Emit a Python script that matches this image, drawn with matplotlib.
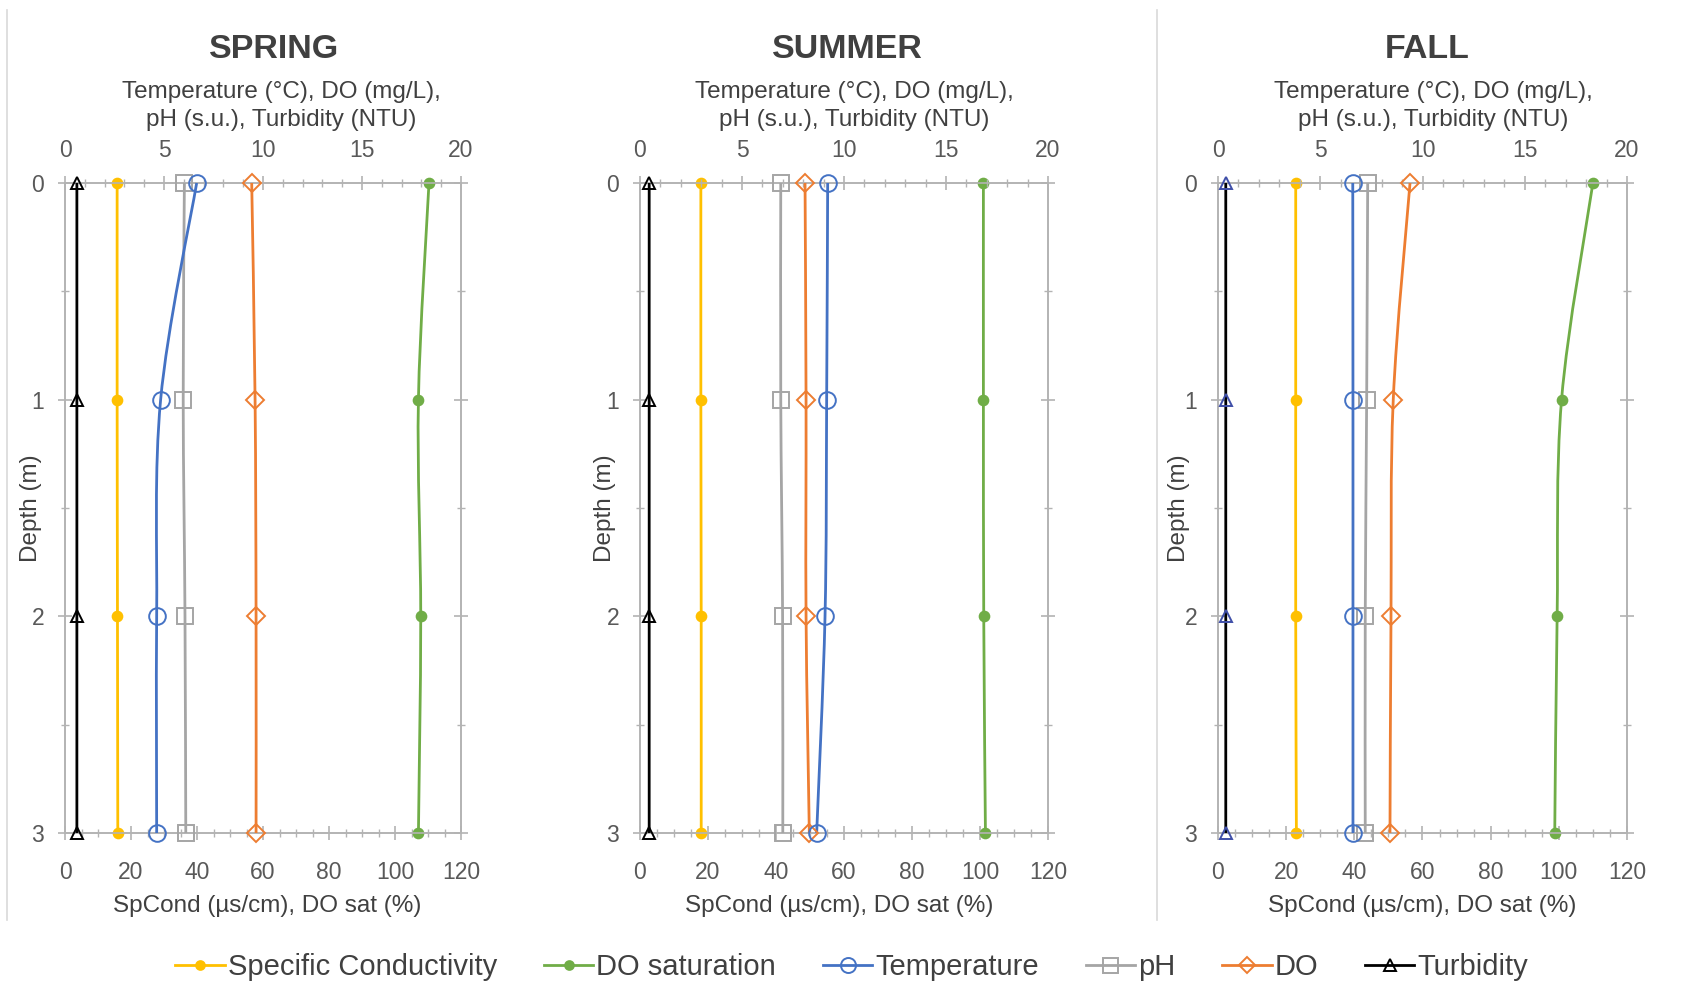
import numpy as np
import matplotlib.pyplot as plt
from matplotlib.path import Path
from matplotlib.patches import PathPatch
from matplotlib.lines import Line2D
from matplotlib.ticker import MultipleLocator

plt.rcParams['font.family'] = ['Liberation Sans', 'DejaVu Sans']

# depth profiles, one list per season (spring, summer, fall)
seasons = ['SPRING', 'SUMMER', 'FALL']
depth = [0, 1, 2, 3]
spcond = [[15.8, 15.8, 15.9, 16.0], [17.9, 17.9, 18.0, 18.0], [22.8, 22.8, 22.8, 23.0]]
do_sat = [[110.3, 107.1, 107.8, 107.1], [101.0, 101.0, 101.1, 101.6], [110.0, 100.8, 99.5, 98.8]]
temp = [[6.65, 4.83, 4.63, 4.63], [9.2, 9.15, 9.07, 8.66], [6.59, 6.6, 6.6, 6.6]]
ph = [[6.03, 5.97, 6.06, 6.1], [6.9, 6.9, 6.99, 7.0], [7.32, 7.27, 7.2, 7.2]]
do_mgl = [[9.43, 9.6, 9.65, 9.65], [8.09, 8.14, 8.14, 8.3], [9.39, 8.57, 8.46, 8.41]]
turb = [[0.6, 0.6, 0.6, 0.6], [0.45, 0.45, 0.45, 0.45], [0.38, 0.38, 0.38, 0.38]]

# series styles: label, color, marker, size, filled
styles = {
    'spcond': ('Specific Conductivity', '#FFC000', 'o', 7, True),
    'do_sat': ('DO saturation', '#70AD47', 'o', 7, True),
    'temp': ('Temperature', '#4472C4', 'o', 12, False),
    'ph': ('pH', '#A5A5A5', 's', 12, False),
    'do_mgl': ('DO', '#ED7D31', 'D', 9, False),
    'turb': ('Turbidity', '#000000', '^', 9, False),
}

txt = '#404040'
grey = '#B3B3B3'

# axes boxes in pixels (left, width) and label offsets in axes fraction
boxes = [(65, 396), (640, 408), (1218, 409)]
ylab_x = [-0.057, -0.060, -0.068]
title_x = [0.527, 0.508, 0.511]
top_x = [0.546, 0.526, 0.526]
bot_x = [0.51, 0.487, 0.5]
W, H = 1690, 985


def smooth(x, y):
    # Excel-like smoothed line through the points (cubic bezier)
    p = np.column_stack([x, y]).astype(float)
    n = len(p)
    verts = [p[0]]
    codes = [Path.MOVETO]
    for i in range(n - 1):
        a = p[max(i - 1, 0)]
        b = p[i]
        c = p[i + 1]
        d = p[min(i + 2, n - 1)]
        verts += [b + (c - a) / 6, c - (d - b) / 6, c]
        codes += [Path.CURVE4] * 3
    return Path(verts, codes)


def draw(ax, key, vals, edge=None):
    label, color, mk, ms, filled = styles[key]
    ax.add_patch(PathPatch(smooth(vals, depth), fill=False, edgecolor=color,
                           lw=2.0, clip_on=False, zorder=3))
    ax.plot(vals, depth, ls='none', marker=mk, ms=ms, mew=1.4,
            mec=edge or color, mfc=color if filled else 'none',
            clip_on=False, zorder=4)


fig = plt.figure(figsize=(16.9, 9.85), dpi=100)

for i, name in enumerate(seasons):
    left, width = boxes[i]
    ax = fig.add_axes([left / W, 1 - 833 / H, width / W, 650 / H])
    ax2 = ax.twiny()

    ax.set_xlim(0, 120)
    ax2.set_xlim(0, 20)
    ax.set_ylim(3, 0)

    draw(ax, 'spcond', spcond[i])
    draw(ax, 'do_sat', do_sat[i])
    draw(ax2, 'ph', ph[i])
    draw(ax2, 'do_mgl', do_mgl[i])
    draw(ax2, 'temp', temp[i])
    draw(ax2, 'turb', turb[i], edge='#3F4FA8' if name == 'FALL' else None)

    for a in (ax, ax2):
        for s in a.spines.values():
            s.set_color(grey)
            s.set_linewidth(1.2)
    ax.xaxis.set_major_locator(MultipleLocator(20))
    ax.xaxis.set_minor_locator(MultipleLocator(5))
    ax2.xaxis.set_major_locator(MultipleLocator(5))
    ax2.xaxis.set_minor_locator(MultipleLocator(1))
    ax.yaxis.set_major_locator(MultipleLocator(1))
    ax.yaxis.set_minor_locator(MultipleLocator(0.5))
    ax.yaxis.set_ticks_position('both')

    for a in (ax, ax2):
        a.tick_params(which='major', direction='inout', length=10, width=1.2,
                      color=grey, labelsize=16.5, labelcolor='#595959')
        a.tick_params(which='minor', direction='inout', length=6, width=1.0,
                      color=grey)
    ax.tick_params(axis='x', pad=15)
    ax2.tick_params(axis='x', pad=10)
    ax.tick_params(axis='y', pad=10, labelright=False)

    ax.set_xlabel('SpCond (µs/cm), DO sat (%)', fontsize=17.5, color=txt)
    ax.xaxis.set_label_coords(bot_x[i], -0.095)
    ax2.set_xlabel('Temperature (°C), DO (mg/L),\npH (s.u.), Turbidity (NTU)',
                   fontsize=17.5, color=txt, linespacing=1.4)
    ax2.xaxis.set_label_coords(top_x[i], 1.087)
    ax.set_ylabel('Depth (m)', fontsize=17.5, color=txt)
    ax.yaxis.set_label_coords(ylab_x[i], 0.5)
    ax.set_title(name, fontsize=24.5, fontweight='bold', color=txt,
                 x=title_x[i], y=1.192, pad=0)

# light separators between the panels
for x in (7, 1157):
    fig.add_artist(Line2D([x / W, x / W], [1 - 10 / H, 1 - 920 / H],
                          transform=fig.transFigure, color='#D9D9D9', lw=1.2))

handles = []
for key in ['spcond', 'do_sat', 'temp', 'ph', 'do_mgl', 'turb']:
    label, color, mk, ms, filled = styles[key]
    handles.append(Line2D([], [], color=color, lw=2.0, marker=mk, ms=ms * 0.9,
                          mew=1.4, mec=color, mfc=color if filled else 'none',
                          label=label))
fig.legend(handles=handles, loc='center', bbox_to_anchor=(0.504, 1 - 967 / H),
           ncol=6, frameon=False, fontsize=21, handlelength=1.7,
           handletextpad=0.1, columnspacing=1.6, labelcolor=txt)

fig.savefig('out.png', dpi=100, facecolor='white')
